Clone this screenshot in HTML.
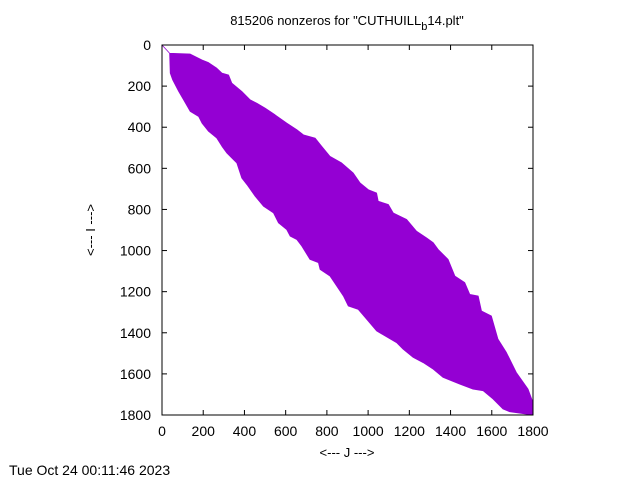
<!DOCTYPE html>
<html><head><meta charset="utf-8"><style>
html,body{margin:0;padding:0;background:#fff;}
svg{display:block;font-family:"Liberation Sans",sans-serif;}
</style></head><body>
<svg id="chart" width="640" height="480" viewBox="0 0 640 480">
<text x="347" y="25" font-size="13" text-anchor="middle">815206 nonzeros for "CUTHUILL<tspan font-size="11" dy="5">b</tspan><tspan dy="-5">14.plt"</tspan></text>
<text x="347" y="457" font-size="13" text-anchor="middle">&lt;--- J ---&gt;</text>
<text transform="translate(95,230) rotate(-90)" font-size="13" text-anchor="middle">&lt;--- I ---&gt;</text>
<text x="9" y="475" font-size="14">Tue Oct 24 00:11:46 2023</text>
<g id="marks"></g>
<g id="axes"></g>
</svg>
<script>
const xTicks=[0,200,400,600,800,1000,1200,1400,1600,1800];
const yTicks=[0,200,400,600,800,1000,1200,1400,1600,1800];
const upperJ=[37,137,194,226,266,291,323,339,387,428,460,500,549,605,654,686,743,775,815,872,928,961,1001,1041,1049,1098,1122,1187,1235,1283,1316,1340,1388,1421,1469,1493,1534,1550,1598,1630,1671,1719,1776,1800,1800];
const upperI=[40,44,73,86,113,137,146,186,226,267,283,307,340,380,412,437,453,493,542,574,623,671,704,720,760,776,817,849,906,938,962,995,1043,1124,1156,1213,1221,1294,1318,1431,1496,1593,1674,1739,1800];
const lowerJ=[1687,1655,1606,1558,1509,1445,1364,1316,1267,1219,1170,1138,1041,993,952,904,880,848,815,767,759,718,678,654,622,605,565,541,492,452,412,387,363,347,315,291,266,226,194,178,137,105,81,52,40];
const lowerI=[1784,1771,1722,1682,1674,1650,1617,1577,1545,1520,1480,1448,1391,1334,1286,1270,1221,1173,1124,1092,1059,1043,978,946,930,898,865,817,784,736,679,647,574,558,526,493,453,420,380,348,323,267,226,170,137];
const L=162,R=533,T=45,B=415,MAX=1800;
const sx=v=>L+v/MAX*(R-L), sy=v=>T+v/MAX*(B-T);
const NS="http://www.w3.org/2000/svg";
const marks=document.getElementById('marks'), axes=document.getElementById('axes');
let d="M"+sx(0)+","+sy(0)+"L"+sx(upperJ[0])+","+sy(upperI[0]);
for(let k=1;k<upperJ.length;k++){d+="L"+sx(upperJ[k])+","+sy(upperI[k]);}
for(let k=0;k<lowerJ.length;k++){d+="L"+sx(lowerJ[k])+","+sy(lowerI[k]);}
d+="L"+sx(upperJ[0])+","+sy(upperI[0])+"Z";
const p=document.createElementNS(NS,'path');
p.setAttribute('d',d);p.setAttribute('fill','#9400d3');p.setAttribute('stroke','#9400d3');p.setAttribute('stroke-width','0.8');p.setAttribute('stroke-linejoin','round');


marks.appendChild(p);
const frame=document.createElementNS(NS,'rect');
frame.setAttribute('x',L);frame.setAttribute('y',T);frame.setAttribute('width',R-L);frame.setAttribute('height',B-T);
frame.setAttribute('fill','none');frame.setAttribute('stroke','#000');frame.setAttribute('stroke-width','1');


axes.appendChild(frame);
function line(x1,y1,x2,y2){const l=document.createElementNS(NS,'line');l.setAttribute('x1',x1);l.setAttribute('y1',y1);l.setAttribute('x2',x2);l.setAttribute('y2',y2);l.setAttribute('stroke','#000');axes.appendChild(l);return l;}
xTicks.forEach(v=>{
  const x=sx(v);
  const a=line(x,B,x,B-5);
  
  
  const b=line(x,T,x,T+5);
  
  
  const t=document.createElementNS(NS,'text');
  t.setAttribute('x',x);t.setAttribute('y',B+21);t.setAttribute('font-size','14');t.setAttribute('text-anchor','middle');
  t.textContent=v;
  
  
  axes.appendChild(t);
});
yTicks.forEach(v=>{
  const y=sy(v);
  const a=line(L,y,L+5,y);
  
  
  const b=line(R,y,R-5,y);
  
  
  const t=document.createElementNS(NS,'text');
  t.setAttribute('x',L-11);t.setAttribute('y',y+5);t.setAttribute('font-size','14');t.setAttribute('text-anchor','end');
  t.textContent=v;
  
  
  axes.appendChild(t);
});
</script>
</body></html>
